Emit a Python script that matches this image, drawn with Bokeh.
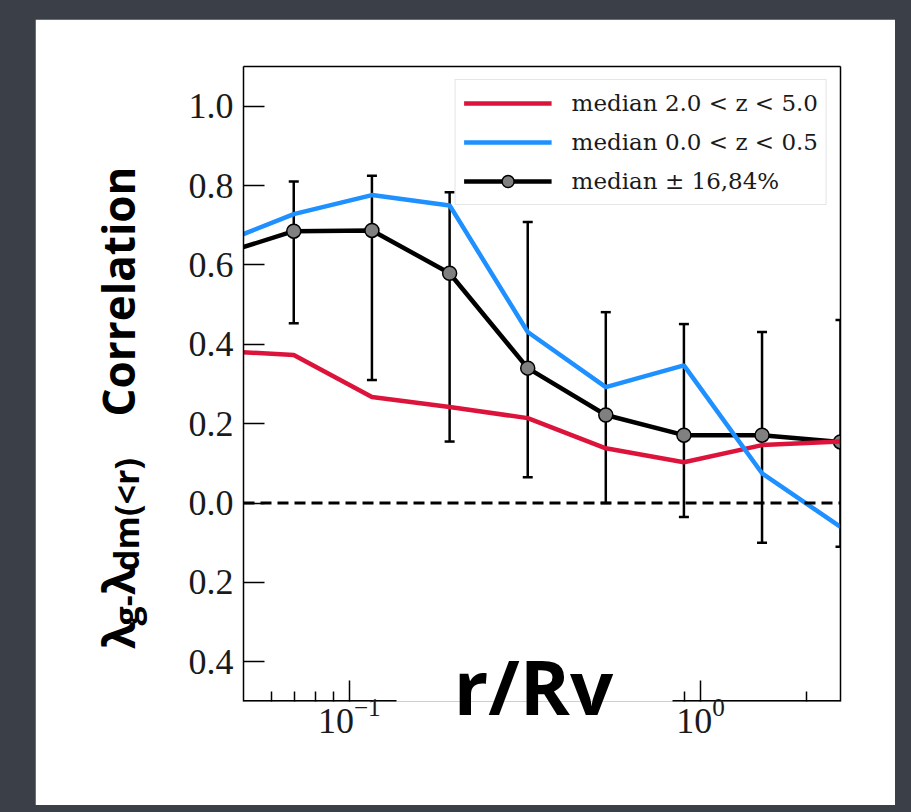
import math
from bokeh.plotting import figure
from bokeh.layouts import column, row
from bokeh.models import (ColumnDataSource, Whisker, TeeHead, Span, Legend, LegendItem,
                          FixedTicker, Range1d, LinearAxis, Div)
from bokeh.embed import file_html
from bokeh.resources import INLINE

# ---------------- data ----------------
r_over_rv = [0.0417, 0.0695, 0.116, 0.193, 0.322, 0.537, 0.896, 1.495, 2.5]
median_all = [0.623, 0.685, 0.687, 0.579, 0.340, 0.222, 0.171, 0.171, 0.154]
upper_all = [None, 0.810, 0.825, 0.783, 0.708, 0.481, 0.451, 0.431, 0.461]
lower_all = [None, 0.453, 0.310, 0.155, 0.065, 0.000, -0.035, -0.100, -0.110]
median_hiz = [0.384, 0.373, 0.267, 0.242, 0.214, 0.138, 0.103, 0.146, 0.155]
median_loz = [0.650, 0.728, 0.776, 0.750, 0.431, 0.292, 0.347, 0.075, -0.060]

legend_labels = ["median 2.0 < z < 5.0", "median 0.0 < z < 0.5", "median ± 16,84%"]
y_ticks = [-0.4, -0.2, 0.0, 0.2, 0.4, 0.6, 0.8, 1.0]
y_tick_labels = ["0.4", "0.2", "0.0", "0.2", "0.4", "0.6", "0.8", "1.0"]
x_major_ticks = [0.1, 1.0]
x_minor_ticks = [0.06, 0.07, 0.08, 0.09, 0.9, 2.0]
x_lo, x_hi = 0.05, 2.5
y_lo, y_hi = -0.5, 1.1
x_title = "r/Rv"
y_title_big = ["λ", "λ", "Correlation"]
y_title_small = ["g-", "dm(<r)"]

# ---------------- geometry (page pixels) ----------------
PAPER_L, PAPER_T, PAPER_R, PAPER_B = 35, 20, 895, 806
FL, FR, FT, FB = 243, 840, 67, 702   # frame edges
SHIFT_X, SHIFT_Y = -2, -3            # compensation for page placement
DARK = "#3b3f47"


def xd(px):
    return round(10 ** (math.log10(x_lo) + (px - FL) / (FR - FL) * math.log10(x_hi / x_lo)), 5)


def yd(py):
    return round(y_hi - (py - FT) / (FB - FT) * (y_hi - y_lo), 5)


W, H = PAPER_R - PAPER_L, PAPER_B - PAPER_T
p = figure(width=W, height=H, x_axis_type="log",
           x_range=Range1d(x_lo, x_hi), y_range=Range1d(y_lo, y_hi),
           output_backend="svg", toolbar_location=None,
           min_border_left=FL - PAPER_L, min_border_right=PAPER_R - FR,
           min_border_top=FT - PAPER_T, min_border_bottom=PAPER_B - FB)
p.border_fill_color = "white"
p.background_fill_color = "white"
p.outline_line_color = None
p.xgrid.visible = False
p.ygrid.visible = False

serif = "Liberation Serif"
for ax in (p.xaxis[0], p.yaxis[0]):
    ax.axis_line_color = "black"
    ax.axis_line_width = 1.5
    ax.major_tick_line_width = 1.5
    ax.minor_tick_line_width = 1.5
    ax.major_tick_in = 21
    ax.major_tick_out = 0
    ax.minor_tick_in = 10
    ax.minor_tick_out = 0
    ax.major_label_text_font = serif
    ax.major_label_text_font_size = "36px"
    ax.major_label_text_color = "#1a1a1a"

p.yaxis.ticker = FixedTicker(ticks=y_ticks, minor_ticks=[])
p.yaxis.major_label_overrides = {t: l for t, l in zip(y_ticks, y_tick_labels)}
p.yaxis.major_label_standoff = 10
p.xaxis.ticker = FixedTicker(ticks=x_major_ticks, minor_ticks=x_minor_ticks)
p.xaxis.major_label_standoff = -3
p.xaxis.axis_line_color = None   # bottom spine drawn in two pieces (gap behind the title)


def bare_axis(**kw):
    return LinearAxis(axis_line_color=None, major_tick_in=0, major_tick_out=0,
                      minor_tick_in=0, minor_tick_out=0, **kw)


# top and right spines
p.add_layout(LinearAxis(major_tick_in=0, major_tick_out=0, minor_tick_in=0, minor_tick_out=0,
                        axis_line_width=1.5, ticker=FixedTicker(ticks=[])), "above")
p.add_layout(LinearAxis(major_tick_in=0, major_tick_out=0, minor_tick_in=0, minor_tick_out=0,
                        axis_line_width=1.5, ticker=FixedTicker(ticks=[])), "right")

# bottom spine pieces
p.segment(x0=[x_lo, xd(672)], y0=[y_lo, y_lo], x1=[xd(396), x_hi], y1=[y_lo, y_lo],
          line_color="black", line_width=3)

# x title as a tick label of a bare axis
xt = xd(533)
ax_x = bare_axis(ticker=FixedTicker(ticks=[xt], minor_ticks=[]),
                 major_label_overrides={xt: x_title},
                 major_label_text_font="Open Sans", major_label_text_font_style="bold",
                 major_label_text_font_size="76px", major_label_text_color="black",
                 major_label_standoff=-102)
p.add_layout(ax_x, "below")

# y title pieces as rotated tick labels of bare axes
big_pos = [yd(636), yd(582), yd(292)]
small_pos = [yd(611), yd(515)]
ax_big = bare_axis(ticker=FixedTicker(ticks=big_pos, minor_ticks=[]),
                   major_label_overrides=dict(zip(big_pos, y_title_big)),
                   major_label_orientation="vertical",
                   major_label_text_font="Open Sans", major_label_text_font_style="bold",
                   major_label_text_font_size="44px", major_label_text_color="black",
                   major_label_standoff=37)
ax_small = bare_axis(ticker=FixedTicker(ticks=small_pos, minor_ticks=[]),
                     major_label_overrides=dict(zip(small_pos, y_title_small)),
                     major_label_orientation="vertical",
                     major_label_text_font="Open Sans", major_label_text_font_style="bold",
                     major_label_text_font_size="34px", major_label_text_color="black",
                     major_label_standoff=-64)
p.add_layout(ax_big, "left")
p.add_layout(ax_small, "left")

# zero line
p.add_layout(Span(location=0, dimension="width", line_color="black", line_width=3,
                  line_dash="11 6"))

# error bars
err_src = ColumnDataSource(dict(x=r_over_rv[1:], upper=upper_all[1:], lower=lower_all[1:]))
p.add_layout(Whisker(base="x", upper="upper", lower="lower", source=err_src,
                     line_color="black", line_width=2.5, level="underlay",
                     upper_head=TeeHead(size=10, line_width=2.5, line_color="black"),
                     lower_head=TeeHead(size=10, line_width=2.5, line_color="black")))

src = ColumnDataSource(dict(x=r_over_rv, med=median_all, hiz=median_hiz, loz=median_loz))
r_blk = p.line("x", "med", source=src, line_color="black", line_width=4.5)
r_pts = p.scatter("x", "med", source=src, size=14, fill_color="#808080",
                  line_color="black", line_width=1.5)
r_red = p.line("x", "hiz", source=src, line_color="#dc143c", line_width=4.5)
r_blue = p.line("x", "loz", source=src, line_color="#1e90ff", line_width=4.5)

legend = Legend(items=[LegendItem(label=legend_labels[0], renderers=[r_red]),
                       LegendItem(label=legend_labels[1], renderers=[r_blue]),
                       LegendItem(label=legend_labels[2], renderers=[r_blk, r_pts])],
                location="top_right", margin=13, padding=8, spacing=9,
                glyph_width=88, glyph_height=30, label_height=30, label_standoff=20,
                label_text_font="DejaVu Serif", label_text_font_size="23px",
                label_text_color="#1a1a1a",
                border_line_color="#cccccc", border_line_width=1.5,
                background_fill_color="white", background_fill_alpha=0.85)
p.add_layout(legend)

# dark surround (the paper sits on a dark board)
bg = {"background-color": DARK}
TOTAL_W, TOTAL_H = 911, 812
top_h = PAPER_T + SHIFT_Y
left_w = PAPER_L + SHIFT_X
top = Div(text="", width=TOTAL_W, height=top_h, styles=bg)
left = Div(text="", width=left_w, height=H, styles=bg)
right = Div(text="", width=TOTAL_W - left_w - W, height=H, styles=bg)
bottom = Div(text="", width=TOTAL_W, height=TOTAL_H - top_h - H, styles=bg)
root = column(top, row(left, p, right, spacing=0), bottom, spacing=0,
              styles={"margin": "-8px", "background-color": DARK})

open("out.html", "w").write(file_html(root, INLINE))
